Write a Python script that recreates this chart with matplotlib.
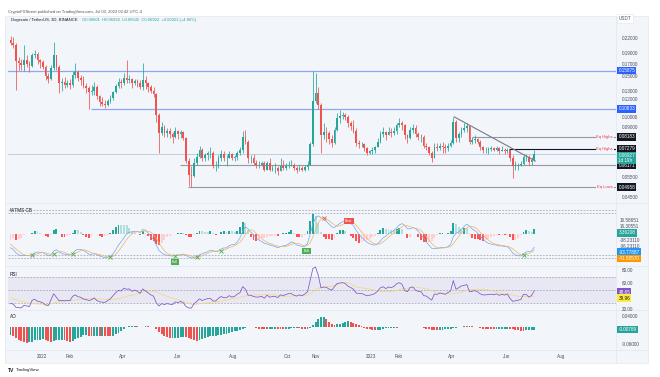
import numpy as np
import pandas as pd
import matplotlib
matplotlib.use("Agg")
import matplotlib.pyplot as plt
import matplotlib.dates as mdates
from matplotlib.patches import Rectangle
from matplotlib.lines import Line2D
from matplotlib.ticker import FixedLocator, NullLocator, FuncFormatter
from matplotlib.transforms import blended_transform_factory as blend

plt.rcParams['font.family'] = ['Liberation Sans', 'DejaVu Sans']

# DOGE/USDT 3D candles, first candle opens 2021-11-27 (open = previous close)
first_open = 0.2150
closes = [
    0.210, 0.205, 0.175, 0.172, 0.168, 0.176, 0.170, 0.166, 0.185, 0.188,
    0.176, 0.173, 0.165, 0.150, 0.146, 0.163, 0.185, 0.165, 0.140, 0.142,
    0.138, 0.140, 0.137, 0.152, 0.157, 0.148, 0.145, 0.136, 0.133, 0.128,
    0.130, 0.135, 0.123, 0.116, 0.114, 0.113, 0.117, 0.121, 0.128, 0.136,
    0.142, 0.140, 0.148, 0.145, 0.146, 0.140, 0.143, 0.140, 0.135, 0.145,
    0.140, 0.135, 0.130, 0.126, 0.102, 0.085, 0.090, 0.085, 0.087, 0.084,
    0.082, 0.087, 0.084, 0.086, 0.081, 0.064, 0.056, 0.0555, 0.063, 0.067,
    0.072, 0.066, 0.068, 0.0695, 0.070, 0.062, 0.062, 0.066, 0.069, 0.066,
    0.066, 0.069, 0.066, 0.067, 0.070, 0.072, 0.082, 0.078, 0.066, 0.066,
    0.063, 0.062, 0.062, 0.063, 0.059, 0.063, 0.059, 0.060, 0.060, 0.058,
    0.061, 0.060, 0.061, 0.062, 0.062, 0.060, 0.059, 0.060, 0.059, 0.0605,
    0.062, 0.076, 0.117, 0.127, 0.113, 0.083, 0.086, 0.085, 0.080, 0.077,
    0.088, 0.099, 0.101, 0.102, 0.100, 0.094, 0.091, 0.087, 0.077, 0.076,
    0.076, 0.073, 0.070, 0.071, 0.072, 0.074, 0.078, 0.084, 0.086, 0.083,
    0.086, 0.085, 0.087, 0.092, 0.094, 0.092, 0.083, 0.081, 0.088, 0.089,
    0.084, 0.082, 0.082, 0.075, 0.074, 0.070, 0.066, 0.074, 0.073, 0.075,
    0.074, 0.073, 0.075, 0.077, 0.095, 0.081, 0.084, 0.088, 0.089, 0.091,
    0.078, 0.079, 0.080, 0.078, 0.074, 0.072, 0.072, 0.0725, 0.073, 0.072,
    0.073, 0.071, 0.072, 0.071, 0.072, 0.066, 0.061, 0.0615, 0.062, 0.0625,
    0.067, 0.067, 0.0635, 0.065, 0.06927,
]
highs = [
    0.225, 0.222, 0.210, 0.182, 0.178, 0.205, 0.185, 0.175, 0.190, 0.195,
    0.192, 0.178, 0.177, 0.168, 0.155, 0.168, 0.212, 0.186, 0.168, 0.148,
    0.149, 0.145, 0.146, 0.158, 0.171, 0.160, 0.152, 0.150, 0.140, 0.136,
    0.138, 0.142, 0.137, 0.124, 0.122, 0.118, 0.120, 0.124, 0.130, 0.139,
    0.148, 0.146, 0.155, 0.176, 0.152, 0.148, 0.146, 0.146, 0.145, 0.171,
    0.150, 0.142, 0.137, 0.135, 0.127, 0.104, 0.095, 0.092, 0.089, 0.089,
    0.086, 0.090, 0.088, 0.088, 0.087, 0.082, 0.066, 0.061, 0.066, 0.070,
    0.075, 0.073, 0.070, 0.071, 0.074, 0.071, 0.064, 0.068, 0.072, 0.071,
    0.068, 0.071, 0.070, 0.068, 0.071, 0.074, 0.087, 0.088, 0.079, 0.068,
    0.069, 0.065, 0.064, 0.064, 0.064, 0.064, 0.066, 0.062, 0.063, 0.061,
    0.066, 0.065, 0.063, 0.064, 0.065, 0.063, 0.061, 0.062, 0.061, 0.062,
    0.064, 0.078, 0.158, 0.155, 0.135, 0.115, 0.094, 0.090, 0.087, 0.083,
    0.090, 0.104, 0.107, 0.105, 0.104, 0.102, 0.096, 0.097, 0.089, 0.079,
    0.078, 0.077, 0.074, 0.072, 0.074, 0.075, 0.081, 0.087, 0.090, 0.087,
    0.090, 0.089, 0.090, 0.094, 0.099, 0.096, 0.093, 0.084, 0.090, 0.093,
    0.092, 0.086, 0.084, 0.083, 0.077, 0.075, 0.071, 0.077, 0.077, 0.077,
    0.078, 0.076, 0.077, 0.079, 0.100, 0.097, 0.086, 0.090, 0.094, 0.094,
    0.091, 0.082, 0.083, 0.081, 0.079, 0.075, 0.074, 0.074, 0.075, 0.074,
    0.075, 0.074, 0.075, 0.073, 0.073, 0.072, 0.068, 0.064, 0.063, 0.064,
    0.069, 0.069, 0.068, 0.067, 0.0715,
]
lows = [
    0.205, 0.200, 0.131, 0.160, 0.160, 0.158, 0.165, 0.157, 0.165, 0.180,
    0.170, 0.163, 0.162, 0.145, 0.140, 0.145, 0.160, 0.160, 0.127, 0.130,
    0.133, 0.135, 0.132, 0.135, 0.148, 0.143, 0.138, 0.133, 0.127, 0.1083,
    0.124, 0.125, 0.120, 0.112, 0.111, 0.109, 0.111, 0.115, 0.118, 0.127,
    0.134, 0.133, 0.138, 0.140, 0.140, 0.134, 0.138, 0.135, 0.132, 0.131,
    0.132, 0.128, 0.127, 0.122, 0.095, 0.070, 0.083, 0.082, 0.082, 0.081,
    0.077, 0.081, 0.080, 0.081, 0.079, 0.063, 0.050, 0.0496, 0.055, 0.062,
    0.066, 0.064, 0.064, 0.065, 0.066, 0.060, 0.058, 0.060, 0.064, 0.064,
    0.061, 0.066, 0.065, 0.064, 0.065, 0.068, 0.070, 0.076, 0.063, 0.063,
    0.062, 0.060, 0.060, 0.061, 0.058, 0.059, 0.058, 0.058, 0.057, 0.056,
    0.058, 0.059, 0.059, 0.060, 0.061, 0.059, 0.057, 0.058, 0.058, 0.058,
    0.059, 0.062, 0.075, 0.115, 0.108, 0.070, 0.080, 0.078, 0.076, 0.074,
    0.076, 0.087, 0.094, 0.098, 0.097, 0.090, 0.088, 0.085, 0.075, 0.073,
    0.074, 0.071, 0.068, 0.069, 0.069, 0.070, 0.074, 0.077, 0.082, 0.079,
    0.083, 0.082, 0.083, 0.084, 0.090, 0.088, 0.080, 0.077, 0.080, 0.085,
    0.082, 0.079, 0.078, 0.073, 0.072, 0.068, 0.0636, 0.066, 0.071, 0.072,
    0.070, 0.070, 0.071, 0.074, 0.076, 0.078, 0.078, 0.082, 0.086, 0.086,
    0.076, 0.076, 0.077, 0.076, 0.072, 0.070, 0.070, 0.069, 0.071, 0.071,
    0.071, 0.069, 0.071, 0.069, 0.070, 0.064, 0.0545, 0.059, 0.059, 0.061,
    0.062, 0.064, 0.062, 0.062, 0.0645,
]
# closes before the visible window, only used to warm up the indicators
pre_closes = [0.33, 0.31, 0.29, 0.29, 0.28, 0.30, 0.31, 0.25, 0.25, 0.24,
              0.24, 0.21, 0.22, 0.21, 0.20, 0.22, 0.24, 0.24, 0.23, 0.24,
              0.24, 0.25, 0.26, 0.27, 0.29, 0.27, 0.26, 0.27, 0.26, 0.26,
              0.24, 0.23, 0.22, 0.215]

# drawn levels
levels = [0.15875, 0.10833, 0.08183, 0.07279, 0.06171, 0.04958]
level_from = ["2021-11-20", "2022-02-24", "2023-04-24", "2023-06-04", "2022-06-03", "2022-06-12"]
level_tags = ["", "", "Eq Highs", "Eq Highs", "", "Eq Lows"]
trend_dates = ["2023-04-04", "2023-07-03"]
trend_prices = [0.1000, 0.0643]

price_ticks = [0.22, 0.19, 0.17, 0.15, 0.13, 0.12, 0.10, 0.09, 0.055, 0.045]
month_ticks = ["2022-01-01", "2022-02-01", "2022-04-01", "2022-06-01", "2022-08-01",
               "2022-10-01", "2022-11-01", "2023-01-01", "2023-02-01", "2023-04-01",
               "2023-06-01", "2023-08-01"]
month_labels = ["2022", "Feb", "Apr", "Jun", "Aug", "Oct", "Nov", "2023", "Feb", "Apr", "Jun", "Aug"]

bull_dates = ["2022-05-29", "2022-10-22"]
bull_vals = [-70, -42]
bear_dates = ["2022-12-08"]
bear_vals = [33]

# ---------------------------------------------------------------- indicators
n = len(closes)
dates = pd.date_range("2021-11-27", periods=n, freq="3D")
x = mdates.date2num(dates)
c = np.array(closes)
hi = np.array(highs)
lo = np.array(lows)
o = np.r_[first_open, c[:-1]]
hi = np.maximum(hi, np.maximum(o, c))
lo = np.minimum(lo, np.minimum(o, c))

m = len(pre_closes)
ca = pd.Series(np.r_[pre_closes, c])
ha = pd.Series(np.r_[pre_closes, hi])
la = pd.Series(np.r_[pre_closes, lo])

# wavetrend 10 / 21 / 4
src = (ha + la + ca) / 3
esa = src.ewm(span=10, adjust=False).mean()
de = (src - esa).abs().ewm(span=10, adjust=False).mean()
ci = ((src - esa) / (0.015 * de)).replace([np.inf, -np.inf], np.nan).fillna(0)
wt1 = ci.ewm(span=21, adjust=False).mean()
wt2 = wt1.rolling(4, min_periods=1).mean()
hist = (wt1 - wt2) * 1.5

delta = ca.diff()
up = delta.clip(lower=0).ewm(alpha=1 / 14, adjust=False).mean()
dn = (-delta.clip(upper=0)).ewm(alpha=1 / 14, adjust=False).mean()
rsi = 100 - 100 / (1 + up / dn)
rsi_ma = rsi.rolling(14, min_periods=1).mean()

hl2 = (ha + la) / 2
ao = hl2.rolling(5, min_periods=1).mean() - hl2.rolling(34, min_periods=1).mean()

wt1, wt2, hist = wt1.values[m:], wt2.values[m:], hist.values[m:]
rsi, rsi_ma, ao = rsi.values[m:], rsi_ma.values[m:], ao.values[m:]
hist_prev = np.r_[hist[0], hist[:-1]]
ao_prev = np.r_[ao[0], ao[:-1]]

# ---------------------------------------------------------------- layout
W, H = 660, 377
UP, DOWN = "#26a69a", "#ef5350"
BG = "#f2f5fa"
TXT = "#4a4e59"
FS = 3.3

fig = plt.figure(figsize=(W / 100, H / 100), dpi=100)
fig.patch.set_facecolor("white")
fig.patches.append(Rectangle((5 / W, 1 - 363 / H), 643 / W, 347 / H, transform=fig.transFigure,
                             facecolor=BG, edgecolor="#e6e9f0", lw=0.5, zorder=-5))


def pane(y0, y1):
    a = fig.add_axes([8 / W, 1 - y1 / H, 608 / W, (y1 - y0) / H])
    a.patch.set_alpha(0)
    a.set_zorder(2)
    for s in a.spines.values():
        s.set_visible(False)
    a.set_xlim(mdates.date2num(pd.Timestamp("2022-01-01")) + (8 - 42) / 0.9,
               mdates.date2num(pd.Timestamp("2022-01-01")) + (616 - 42) / 0.9)
    a.yaxis.tick_right()
    a.tick_params(axis="y", length=0, pad=4, labelsize=FS, labelcolor=TXT)
    a.tick_params(axis="x", length=0, labelbottom=False)
    return a


def tag(a, yv, txt, fc, tc="white", trans=None):
    a.text(1.004, yv, txt, transform=trans or blend(a.transAxes, a.transData), ha="left", va="center",
           fontsize=FS, color=tc, linespacing=1.0, zorder=10, clip_on=False,
           bbox=dict(boxstyle="square,pad=0.28", fc=fc, ec="none"))


def ptext(px, py, txt, **kw):
    fig.text(px / W, 1 - py / H, txt, **kw)


# separators
for yy in (203, 266, 310, 350):
    fig.add_artist(Line2D([5 / W, 648 / W], [1 - yy / H] * 2, color="#e3e6ec", lw=0.5, zorder=-4))
fig.add_artist(Line2D([616 / W] * 2, [1 - 16 / H, 1 - 363 / H], color="#e3e6ec", lw=0.5, zorder=-4))

# ---------------------------------------------------------------- price pane
ax = pane(16, 203)
ax.set_yscale("log")
ax.set_ylim(0.22 * np.exp(-(203 - 38) / 100), 0.22 * np.exp((38 - 16) / 100))
ax.yaxis.set_major_locator(FixedLocator(price_ticks))
ax.yaxis.set_minor_locator(NullLocator())
ax.yaxis.set_major_formatter(FuncFormatter(lambda v, _: f"{v:.5f}"))

cols = np.where(c >= o, UP, DOWN)
ax.vlines(x, lo, hi, colors=cols, lw=0.55, zorder=3)
ax.bar(x, np.abs(c - o), bottom=np.minimum(o, c), width=1.9, color=cols, lw=0, zorder=4)

xr = ax.get_xlim()[1]
lvl_style = [("#8fa7f2", 0.9), ("#8fa7f2", 0.9), ("#9598a1", 0.8), ("#131722", 0.8),
             ("#9598a1", 0.8), ("#9598a1", 0.8)]
tag_bg = ["#2962ff", "#2962ff", "#131722", "#131722", "#131722", "#131722"]
for lv, start, lab, (lc, lw), fc in zip(levels, level_from, level_tags, lvl_style, tag_bg):
    ax.hlines(lv, mdates.date2num(pd.Timestamp(start)), xr, color=lc, lw=lw, zorder=2)
    if lab:
        ax.text(0.995, lv, lab, transform=blend(ax.transAxes, ax.transData), ha="right", va="center",
                fontsize=3.0, color="#f23645", zorder=6,
                bbox=dict(boxstyle="square,pad=0.2", fc=BG, ec="none"))
    tag(ax, lv, f"{lv:.5f}", fc)

ax.axhline(c[-1], color="#a9bedb", lw=0.5, zorder=1)
ax.plot(mdates.date2num(pd.to_datetime(trend_dates)), trend_prices, color="#787b86", lw=0.8, zorder=5)
tag(ax, 1 - 158 / H, f"{c[-1]:.5f}\n1d 19h", UP, trans=blend(ax.transAxes, fig.transFigure))
ax.text(1.004, 1.0, "USDT", transform=ax.transAxes, ha="left", va="top", fontsize=FS, color=TXT,
        clip_on=False, bbox=dict(boxstyle="square,pad=0.35", fc="white", ec="#e0e3eb", lw=0.4))

# ---------------------------------------------------------------- WaveTrend pane
aw = pane(203, 266)
aw.set_ylim(-80.8, 78.3)
aw.set_yticks([])
for lv in (60, 53, -53, -60):
    aw.axhline(lv, color="#9598a1", lw=0.45, ls=(0, (3, 2)))
hcol = np.where(hist >= 0, np.where(hist >= hist_prev, "#26a69a", "#b2dfdb"),
                np.where(hist < hist_prev, "#ff5252", "#ffcdd2"))
aw.bar(x, hist, width=2.2, color=hcol, lw=0)
aw.plot(x, wt1, color="#6fa8f0", lw=0.5)
aw.plot(x, wt2, color="#f5b35a", lw=0.5)
prev1, prev2 = np.r_[wt1[0], wt1[:-1]], np.r_[wt2[0], wt2[:-1]]
bull = (wt1 > wt2) & (prev1 <= prev2) & (wt2 < -40)
bear = (wt1 < wt2) & (prev1 >= prev2) & (wt2 > 40)
aw.plot(x[bull], wt2[bull], "x", color="#4caf50", ms=2.5, mew=0.6)
aw.plot(x[bear], wt2[bear], "x", color="#ef5350", ms=2.5, mew=0.6)
for d, v in zip(bull_dates, bull_vals):
    aw.text(mdates.date2num(pd.Timestamp(d)), v, "Bull", ha="center", va="center", fontsize=2.6, color="white",
            bbox=dict(boxstyle="square,pad=0.3", fc="#4caf50", ec="none"))
for d, v in zip(bear_dates, bear_vals):
    aw.text(mdates.date2num(pd.Timestamp(d)), v, "Bear", ha="center", va="center", fontsize=2.6, color="white",
            bbox=dict(boxstyle="square,pad=0.3", fc="#ef5350", ec="none"))
ptext(10, 210, "WTMS CB", fontsize=FS, color="#131722", va="center")
for py, t in [(221, "16.58651"), (226, "16.30551"), (240, "-38.23110"), (246, "-36.23110")]:
    ptext(620, py, t, fontsize=FS, color=TXT, va="center")
tw = blend(aw.transAxes, fig.transFigure)
tag(aw, 1 - 233 / H, "3.36208", "#26a69a", trans=tw)
tag(aw, 1 - 252 / H, f"{wt1[-1]:.5f}", "#2196f3", trans=tw)
tag(aw, 1 - 258.5 / H, f"{wt2[-1]:.5f}", "#ff9800", trans=tw)

# ---------------------------------------------------------------- RSI pane
ar = pane(266, 310)
ar.set_ylim(19.2, 86.9)
ar.set_yticks([80, 60, 20])
ar.yaxis.set_major_formatter(FuncFormatter(lambda v, _: f"{v:.2f}"))
ar.axhspan(30, 70, color="#7e57c2", alpha=0.08, lw=0)
for lv in (70, 50, 30):
    ar.axhline(lv, color="#9598a1", lw=0.45, ls=(0, (3, 2)))
ar.plot(x, rsi_ma, color="#f5d76e", lw=0.5)
ar.plot(x, rsi, color="#7e57c2", lw=0.55)
ptext(10, 275, "RSI", fontsize=FS, color="#131722", va="center")
tr = blend(ar.transAxes, fig.transFigure)
tag(ar, 1 - 292 / H, f"{rsi[-1]:.2f}", "#7e57c2", trans=tr)
tag(ar, 1 - 298 / H, f"{rsi_ma[-1]:.2f}", "#ffeb3b", tc="#131722", trans=tr)

# ---------------------------------------------------------------- AO pane
aa = pane(310, 350)
aa.set_ylim(-0.0824, 0.0637)
aa.set_yticks([0.04, -0.06])
aa.yaxis.set_major_formatter(FuncFormatter(lambda v, _: f"{v:.5f}"))
acol = np.where(ao >= ao_prev, UP, DOWN)
aa.bar(x, ao, width=2.2, color=acol, lw=0)
ptext(10, 317, "AO", fontsize=FS, color="#131722", va="center")
tag(aa, ao[-1], f"{ao[-1]:.5f}", UP)

aa.tick_params(axis="x", labelbottom=True, pad=3, labelsize=FS, labelcolor=TXT)
aa.set_xticks(mdates.date2num(pd.to_datetime(month_ticks)))
aa.set_xticklabels(month_labels)

# ---------------------------------------------------------------- header / footer
ptext(8, 11.5, "CryptoFXStreet published on TradingView.com, Jul 03, 2023 02:42 UTC-4",
      fontsize=3.0, color="#50535e", va="center")
ptext(11, 20, "Dogecoin / TetherUS, 3D, BINANCE", fontsize=3.0, color="#131722", va="center")
ptext(82, 20, "O0.06601  H0.06930  L0.06545  C0.06922  +0.00321 (+4.86%)", fontsize=3.0,
      color=UP, va="center")
ptext(8, 370, "TV", fontsize=3.6, color="#131722", va="center", fontweight="bold")
ptext(16, 370, "TradingView", fontsize=3.2, color="#131722", va="center")

fig.savefig("out.png", dpi=100, facecolor="white")
